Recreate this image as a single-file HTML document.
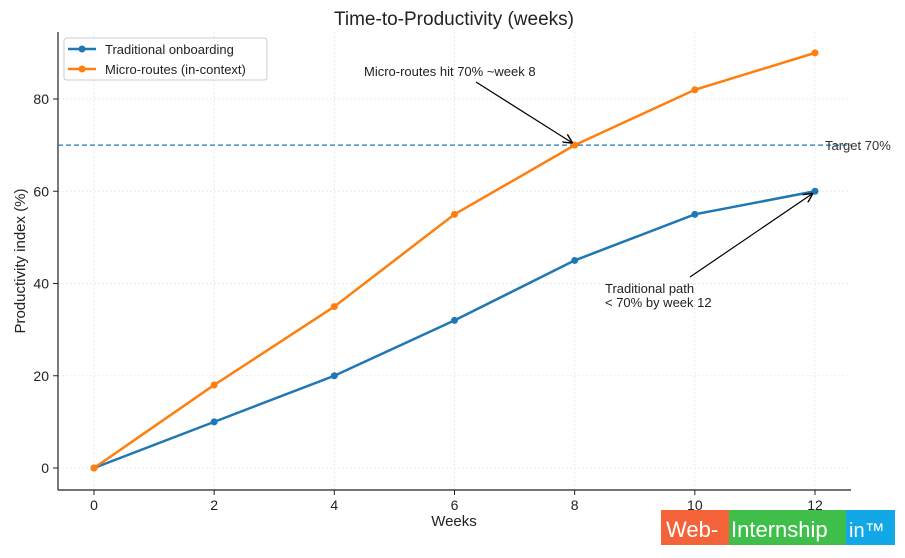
<!DOCTYPE html>
<html><head><meta charset="utf-8"><style>
body{margin:0;background:#fff;}
svg{display:block;font-family:"Liberation Sans","DejaVu Sans",sans-serif;}
</style></head><body>
<svg id="chart" width="905" height="558">
<defs><marker id="ah" viewBox="0 0 10 10" refX="10" refY="5" markerWidth="8" markerHeight="8" orient="auto"><path d="M0,0 L10,5 L0,10" fill="none" stroke="#000" stroke-width="1.5"/></marker></defs>
<text x="454" y="25" text-anchor="middle" font-size="19" fill="#222">Time-to-Productivity (weeks)</text>
<g id="grid"></g><g id="axes"></g><g id="series"></g>
<text x="454" y="526" text-anchor="middle" font-size="15" fill="#222">Weeks</text>
<text transform="translate(25,261) rotate(-90)" text-anchor="middle" font-size="15" fill="#222">Productivity index (%)</text>
<g>
<rect x="64" y="38" width="203" height="42" rx="3" fill="#fff" stroke="#ccc"/>
<line x1="68" y1="49" x2="96" y2="49" stroke="#1f77b4" stroke-width="2.5"/><circle cx="82" cy="49" r="3.5" fill="#1f77b4"/>
<text x="105" y="54" font-size="13" fill="#222">Traditional onboarding</text>
<line x1="68" y1="69" x2="96" y2="69" stroke="#ff7f0e" stroke-width="2.5"/><circle cx="82" cy="69" r="3.5" fill="#ff7f0e"/>
<text x="105" y="74" font-size="13" fill="#222">Micro-routes (in-context)</text>
</g>
<g>
<rect x="661" y="510" width="68" height="35" fill="#f4623a"/><rect x="729" y="510" width="117" height="35" fill="#3fbf4a"/><rect x="846" y="510" width="49" height="35" fill="#12a7e6"/>
<text x="666" y="537" font-size="22" fill="#fff">Web-</text><text x="731" y="537" font-size="22" fill="#fff">Internship</text><text x="849" y="537" font-size="20" fill="#fff">in™</text>
</g>
</svg>
<script>
const weeks=[0,2,4,6,8,10,12];
const traditional=[0,10,20,32,45,55,60];
const micro=[0,18,35,55,70,82,90];
const xTicks=[0,2,4,6,8,10,12];
const yTicks=[0,20,40,60,80];
const target=70;
const NS="http://www.w3.org/2000/svg";
const L=58,R=851,T=32,B=490;
const x=v=>94+v*(815-94)/12;
const y=v=>468-v*(468-99)/80;
function mk(p,t,a){const e=document.createElementNS(NS,t);for(const k in a)e.setAttribute(k,a[k]);p.appendChild(e);return e;}
const grid=document.getElementById('grid'),axes=document.getElementById('axes'),ser=document.getElementById('series'),svg=document.getElementById('chart');
xTicks.forEach(v=>{mk(grid,'line',{x1:x(v),x2:x(v),y1:T,y2:B,stroke:'#ebebeb','stroke-dasharray':'2,2'});
mk(axes,'line',{x1:x(v),x2:x(v),y1:B,y2:B+5,stroke:'#222'});
const t=mk(axes,'text',{x:x(v),y:B+20,'text-anchor':'middle','font-size':14,fill:'#222'});t.textContent=v;

});
yTicks.forEach(v=>{mk(grid,'line',{x1:L,x2:R,y1:y(v),y2:y(v),stroke:'#ebebeb','stroke-dasharray':'2,2'});
mk(axes,'line',{x1:L-5,x2:L,y1:y(v),y2:y(v),stroke:'#222'});
const t=mk(axes,'text',{x:L-9,y:y(v)+5,'text-anchor':'end','font-size':14,fill:'#222'});t.textContent=v;

});
mk(axes,'line',{x1:L,x2:L,y1:T,y2:B,stroke:'#222','stroke-width':1.2});
mk(axes,'line',{x1:L,x2:R,y1:B,y2:B,stroke:'#222','stroke-width':1.2});
const tl=mk(ser,'line',{x1:L,x2:R,y1:y(target),y2:y(target),stroke:'#1f77b4','stroke-width':1.3,'stroke-dasharray':'5,3'});


const tt=mk(svg,'text',{x:825,y:y(target)+5,'font-size':13,fill:'#333'});tt.textContent='Target 70%';


[[traditional,'#1f77b4','traditional'],[micro,'#ff7f0e','micro-routes']].forEach(([d,c,n])=>{
const pl=mk(ser,'polyline',{points:weeks.map((w,i)=>x(w)+','+y(d[i])).join(' '),fill:'none',stroke:c,'stroke-width':2.5});


weeks.forEach((w,i)=>{const p=mk(ser,'circle',{cx:x(w),cy:y(d[i]),r:3.5,fill:c});

});});
const a1=mk(svg,'line',{x1:476,y1:82,x2:x(8)-2,y2:y(70)-2,stroke:'#000','stroke-width':1.2,'marker-end':'url(#ah)'});


const t1=mk(svg,'text',{x:364,y:76,'font-size':13,fill:'#222'});t1.textContent='Micro-routes hit 70% ~week 8';


const a2=mk(svg,'line',{x1:690,y1:277,x2:x(12)-2,y2:y(60)+2,stroke:'#000','stroke-width':1.2,'marker-end':'url(#ah)'});


const t2=mk(svg,'text',{x:605,y:293,'font-size':13,fill:'#222'});t2.textContent='Traditional path';


const t3=mk(svg,'text',{x:605,y:307,'font-size':13,fill:'#222'});t3.textContent='< 70% by week 12';


</script>
</body></html>
